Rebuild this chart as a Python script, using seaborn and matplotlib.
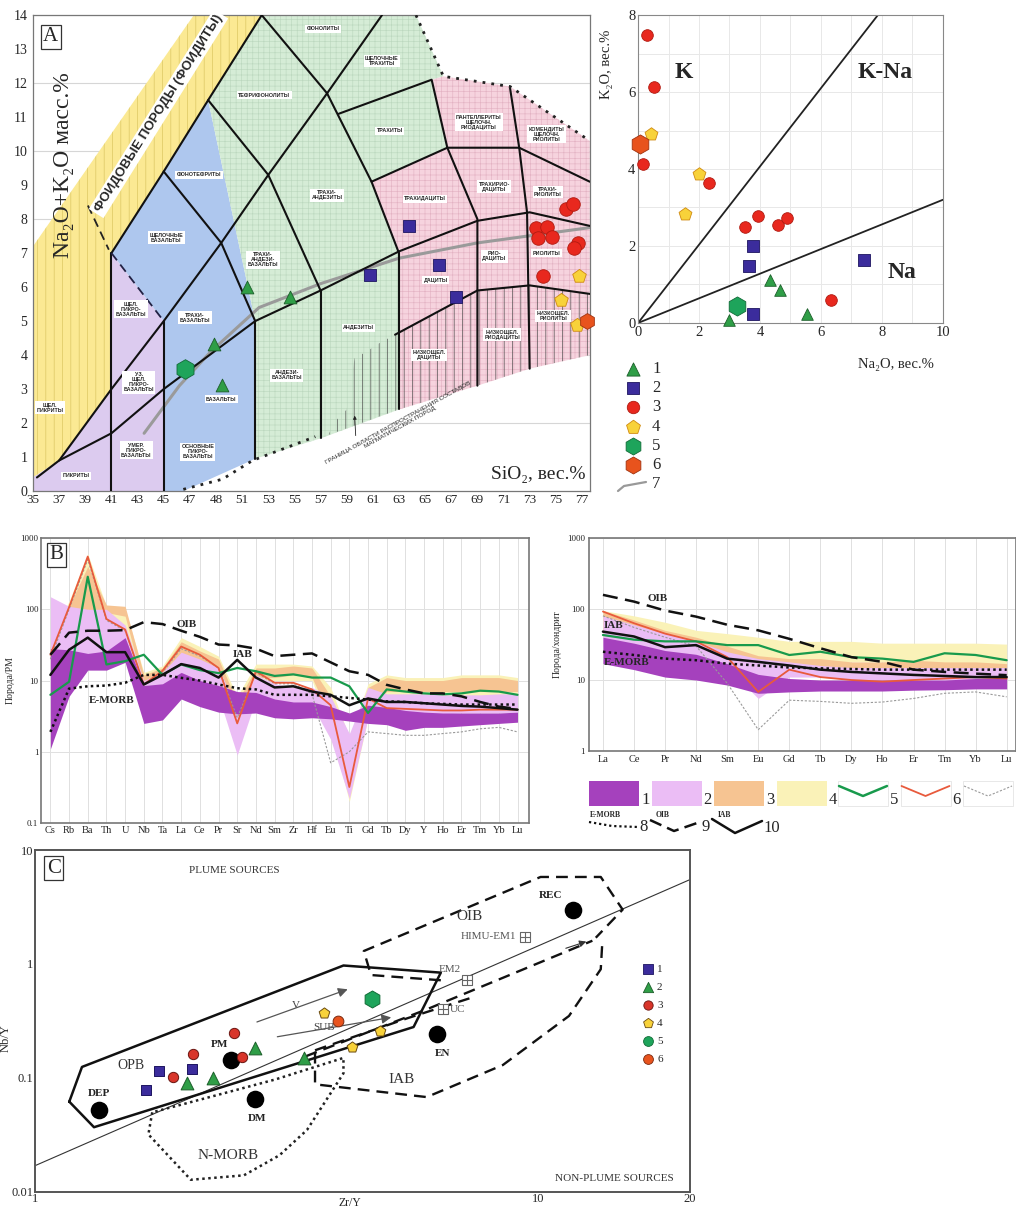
import numpy as np
import pandas as pd
import matplotlib.pyplot as plt
from matplotlib.patches import Rectangle, Polygon
import seaborn as sns

sns.set_style("white")
plt.rcParams['font.family'] = ['Liberation Serif', 'DejaVu Serif']
plt.rcParams['hatch.linewidth'] = 0.45
SANS = ['Liberation Sans', 'DejaVu Sans']

# 1. DATA

# --- panel A: TAS diagram (SiO2 vs Na2O+K2O) ---
tas1_sio2 = [51.4, 54.7, 48.85, 49.45]
tas1_alk = [6.0, 5.7, 4.33, 3.13]
tas2_sio2 = [60.8, 63.8, 66.1, 67.4]
tas2_alk = [6.35, 7.8, 6.65, 5.7]
tas3_sio2 = [75.8, 76.3, 73.5, 74.3, 73.6, 74.7, 76.7, 76.4, 74.0]
tas3_alk = [8.3, 8.45, 7.75, 7.78, 7.43, 7.48, 7.3, 7.15, 6.33]
tas4_sio2 = [76.8, 75.4, 76.6]
tas4_alk = [6.33, 5.62, 4.88]
tas5_sio2 = [46.6]
tas5_alk = [3.6]
tas6_sio2 = [77.4]
tas6_alk = [5.0]

# field outlines (SiO2, alk)
yellow_field = [(35, 0.4), (35, 7.2), (47.3, 14), (52.5, 14), (41, 7), (41, 3.0), (37, 0.9)]
lilac_field = [(35, 0), (35, 0.4), (37, 0.9), (41, 3.0), (41, 7), (45, 5), (45, 0)]
blue_field = [(41, 7), (48.4, 11.5), (52, 5), (52, 0.95), (46.5, 0), (45, 0), (45, 5)]
green_field = [(48.4, 11.5), (52.5, 14), (64.3, 14), (66.4, 12.2), (65.5, 12.1), (66.7, 10.1),
               (60.9, 9.1), (63, 7), (63, 2.4), (57, 1.55), (52, 0.95), (52, 5)]
pink_field = [(63, 2.4), (63, 7), (60.9, 9.1), (66.7, 10.1), (65.5, 12.1), (66.4, 12.2),
              (71.5, 11.9), (77.6, 10.3), (77.6, 4.0), (73, 3.6), (69, 3.1)]
hatch_field = [(57.6, 1.65), (58, 2.0), (59, 2.4), (59.6, 3.9), (60.5, 4.1), (61.5, 4.35),
               (62.7, 4.6), (69, 5.9), (73, 6.05), (77.6, 5.8), (77.6, 4.0), (73, 3.6),
               (69, 3.1), (63, 2.4)]

tas_lines = [
    [(35.3, 0.4), (37, 0.9), (41, 1.7), (45, 3.0), (52, 5.0), (57, 5.9), (63, 7.05), (69, 7.95), (73, 8.2), (77.6, 7.8)],
    [(37, 0.9), (41, 3.0), (45, 5.0), (49.4, 7.3), (53, 9.3), (57.5, 11.7), (61.7, 14)],
    [(41, 7), (45, 9.4), (48.4, 11.5), (52.5, 14)],
    [(45, 9.4), (49.4, 7.3), (52, 5)],
    [(48.4, 11.5), (53, 9.3), (57, 5.9)],
    [(52.5, 14), (57.5, 11.7), (60.9, 9.1), (63, 7)],
    [(41, 0), (41, 7)],
    [(45, 0), (45, 5)],
    [(52, 0.95), (52, 5)],
    [(57, 1.55), (57, 5.9)],
    [(63, 2.4), (63, 7)],
    [(58.4, 11.1), (65.5, 12.1), (66.7, 10.1), (69, 8.0), (69, 3.1)],
    [(60.9, 9.1), (66.7, 10.1), (72.2, 10.1), (77.6, 9.1)],
    [(71.5, 11.85), (72.2, 10.1), (72.8, 8.2), (73, 3.6)],
    [(62.7, 4.6), (69, 5.9), (73, 6.05), (77.6, 5.8)],
]
dotted_bounds = [
    [(64.3, 14), (66.4, 12.2), (71.5, 11.9), (77.6, 10.3)],
    [(46.5, 0.05), (49.5, 0.35), (51.8, 0.9), (56.6, 1.6)],
]
gray_curve_sio2 = [43.5, 46.2, 48.6, 52.3, 57, 63, 69, 77.6]
gray_curve_alk = [1.7, 3.1, 4.1, 5.4, 6.1, 6.85, 7.3, 7.75]

tas_labels = [
    ("ФОНОЛИТЫ", 57.2, 13.6), ("ЩЕЛОЧНЫЕ\nТРАХИТЫ", 61.7, 12.65), ("ТЕФРИФОНОЛИТЫ", 52.7, 11.65),
    ("ТРАХИТЫ", 62.3, 10.6), ("ПАНТЕЛЛЕРИТЫ\nЩЕЛОЧН.\nРИОДАЦИТЫ", 69.1, 10.85),
    ("КОМЕНДИТЫ\nЩЕЛОЧН.\nРИОЛИТЫ", 74.3, 10.5), ("ФОНОТЕФРИТЫ", 47.7, 9.3),
    ("ТРАХИ-\nАНДЕЗИТЫ", 57.5, 8.7), ("ТРАХИДАЦИТЫ", 65.0, 8.6), ("ТРАХИРИО-\nДАЦИТЫ", 70.3, 8.95),
    ("ТРАХИ-\nРИОЛИТЫ", 74.4, 8.8), ("ЩЕЛОЧНЫЕ\nБАЗАЛЬТЫ", 45.2, 7.45),
    ("ТРАХИ-\nАНДЕЗИ-\nБАЗАЛЬТЫ", 52.6, 6.8), ("РИО-\nДАЦИТЫ", 70.3, 6.9), ("ДАЦИТЫ", 65.8, 6.2),
    ("РИОЛИТЫ", 74.3, 7.0), ("ЩЕЛ.\nПИКРО-\nБАЗАЛЬТЫ", 42.5, 5.35), ("ТРАХИ-\nБАЗАЛЬТЫ", 47.4, 5.1),
    ("АНДЕЗИТЫ", 59.9, 4.8), ("НИЗКОЩЕЛ.\nРИОДАЦИТЫ", 70.9, 4.6), ("НИЗКОЩЕЛ.\nРИОЛИТЫ", 74.8, 5.15),
    ("НИЗКОЩЕЛ.\nДАЦИТЫ", 65.3, 4.0), ("УЗ.\nЩЕЛ.\nПИКРО-\nБАЗАЛЬТЫ", 43.1, 3.2),
    ("АНДЕЗИ-\nБАЗАЛЬТЫ", 54.4, 3.4), ("БАЗАЛЬТЫ", 49.4, 2.7), ("ЩЕЛ.\nПИКРИТЫ", 36.3, 2.45),
    ("УМЕР.\nПИКРО-\nБАЗАЛЬТЫ", 42.9, 1.2), ("ОСНОВНЫЕ\nПИКРО-\nБАЗАЛЬТЫ", 47.6, 1.15),
    ("ПИКРИТЫ", 38.3, 0.45),
]
tas_xticks = list(range(35, 78, 2))
tas_xticklabels = [str(v) for v in tas_xticks]
tas_xticklabels[7] = "48"

# --- panel A2: K2O vs Na2O ---
k1_na = [4.33, 4.66, 5.55, 2.97]
k1_k = [1.11, 0.85, 0.24, 0.09]
k2_na = [3.76, 3.65, 3.76, 7.42]
k2_k = [1.99, 1.48, 0.24, 1.63]
k3_na = [0.29, 0.51, 0.16, 2.33, 3.51, 3.95, 4.6, 4.9, 6.33]
k3_k = [7.48, 6.13, 4.12, 3.64, 2.5, 2.78, 2.54, 2.73, 0.59]
k4_na = [0.43, 2.0, 1.55]
k4_k = [4.92, 3.88, 2.82]
k5_na = [3.24]
k5_k = [0.43]
k6_na = [0.08]
k6_k = [4.66]
k_line1 = [(0, 0), (7.87, 8)]
k_line2 = [(0, 0), (10, 3.2)]

# --- panel B: PM normalised spider diagram ---
pm_elements = ["Cs", "Rb", "Ba", "Th", "U", "Nb", "Ta", "La", "Ce", "Pr", "Sr", "Nd", "Sm",
               "Zr", "Hf", "Eu", "Ti", "Gd", "Tb", "Dy", "Y", "Ho", "Er", "Tm", "Yb", "Lu"]
pm_f1_lo = [1.1, 6, 14, 14, 18, 2.5, 2.8, 5.5, 4.3, 3.6, 3.4, 3.5, 3.0, 2.9, 3.0, 2.9, 2.7, 2.5, 2.4, 2.0, 2.2, 2.2, 2.3, 2.4, 2.5, 2.6]
pm_f1_hi = [28, 27, 24, 26, 40, 8.5, 9, 13, 10, 8.5, 7, 6.8, 5.5, 5, 5, 4.3, 3.5, 4.5, 4.2, 3.8, 3.6, 3.5, 3.5, 3.5, 3.5, 3.6]
pm_f2_lo = [1.5, 8, 20, 14, 25, 5, 7, 9, 7, 6, 0.9, 5.5, 5, 4.8, 4.5, 1.5, 0.22, 3.0, 3.4, 3.4, 3.4, 3.4, 3.5, 3.5, 3.5, 3.6]
pm_f2_hi = [150, 110, 100, 100, 60, 10, 13, 25, 20, 15, 4, 12, 9, 8, 8, 6, 1.8, 8, 6.5, 6.5, 6.5, 6.3, 6.3, 6.3, 6.5, 6.5]
pm_f3_lo = [20, 70, 100, 90, 80, 8, 10, 22, 18, 14, 2, 11, 11, 12, 11, 3, 0.3, 4, 7, 7, 7, 7, 7, 7, 7, 7]
pm_f3_hi = [30, 110, 400, 115, 110, 12, 15, 35, 26, 20, 5, 15, 15, 16, 15, 6, 1.0, 8, 11, 10, 10, 10, 11, 11, 11, 10]
pm_f4_lo = [15, 60, 150, 60, 50, 7, 9, 20, 16, 13, 1.5, 10, 10, 10, 10, 2, 0.2, 3, 6, 6, 6, 6, 6, 6, 6, 6]
pm_f4_hi = [40, 130, 600, 110, 100, 13, 16, 40, 30, 22, 6, 17, 17, 17, 16, 8, 1.6, 9, 12, 11, 11, 11, 12, 12, 12, 11]
pm_green = [6.3, 9.6, 286, 16.8, 18.7, 23, 12, 16.8, 14, 12.7, 15, 13.5, 11.6, 12.2, 11, 11, 8.3, 3.5, 7.5, 7, 6.6, 6.4, 6.6, 7.2, 7, 6.3]
pm_red = [23, 107, 550, 73, 52, 8.8, 13.7, 30, 23, 15, 2.5, 13.5, 9.3, 9.3, 7.5, 4.5, 0.32, 5.6, 4.1, 4.0, 3.9, 3.8, 3.8, 3.9, 3.9, 3.9]
pm_gray = [20, 100, 500, 70, 50, 9, 13, 28, 22, 15, 3, 13, 9, 9, 6.5, 0.7, 1.0, 1.9, 1.8, 1.7, 1.7, 1.8, 1.9, 2.1, 2.2, 1.9]
pm_emorb = [1.9, 7.7, 8.3, 8.5, 9.3, 12, 12, 10.9, 10, 8.8, 7.8, 7.5, 6.3, 6.3, 6.3, 6, 5.7, 5.4, 5.1, 5, 4.8, 4.7, 4.6, 4.6, 4.6, 4.6]
pm_oib = [23, 47, 50, 50, 51, 66, 62, 50, 41, 32, 31, 28, 22, 23, 24, 18, 13.5, 12, 8.7, 7.5, 6.6, 6.6, 6.0, 5.0, 4.3, 4.0]
pm_iab = [12, 27, 40, 25, 25, 8.8, 12, 17, 15, 11, 19.5, 11, 8, 8.3, 7, 6.3, 4.5, 5.6, 5, 5, 4.8, 4.6, 4.4, 4.3, 4.1, 3.9]

# --- panel B2: chondrite normalised REE ---
ree_elements = ["La", "Ce", "Pr", "Nd", "Sm", "Eu", "Gd", "Tb", "Dy", "Ho", "Er", "Tm", "Yb", "Lu"]
ree_f1_lo = [17, 14, 11, 10, 8.5, 6.5, 6.8, 7, 7, 7, 7.2, 7.3, 7.5, 7.5]
ree_f1_hi = [40, 33, 26, 23, 17, 12, 10.5, 10, 10, 10, 10, 10, 10.5, 10.5]
ree_f2_lo = [30, 25, 20, 18, 15, 5.5, 11, 11, 10, 10, 10, 10, 10, 10]
ree_f2_hi = [80, 60, 45, 35, 25, 20, 18, 16, 15, 15, 15, 15, 15, 15]
ree_f3_lo = [50, 40, 30, 25, 18, 7, 14, 13, 12, 12, 12, 12, 12, 12]
ree_f3_hi = [95, 70, 50, 40, 30, 22, 20, 20, 18, 18, 19, 18, 18, 17]
ree_f4_lo = [40, 35, 30, 28, 25, 20, 18, 18, 18, 18, 17, 17, 17, 16]
ree_f4_hi = [95, 80, 65, 50, 45, 40, 35, 35, 35, 33, 33, 33, 33, 32]
ree_green = [43, 37, 35, 35, 31, 31, 22.5, 25, 21, 20, 18, 23.8, 22.5, 19]
ree_red = [92, 63, 45, 35, 21, 6.8, 14, 11, 10, 9.5, 10, 10.5, 11, 10.5]
ree_gray = [80, 55, 40, 30, 9, 2.0, 5.2, 5, 4.7, 4.9, 5.5, 6.5, 6.8, 5.8]
ree_emorb = [25, 22.5, 20, 19, 17, 16, 15, 14.6, 14.3, 14, 14, 14, 14, 14]
ree_oib = [158, 127, 95, 78, 60, 50, 38, 28, 21, 18, 14, 13, 12.3, 11.7]
ree_iab = [48, 41, 29, 31, 20, 18, 16, 14, 13, 12.4, 11.8, 11.4, 11, 11]

# --- panel C: Nb/Y vs Zr/Y ---
c1_zr = [1.66, 1.76, 2.05]
c1_nb = [0.079, 0.116, 0.121]
c2_zr = [2.0, 2.26, 2.74, 3.42]
c2_nb = [0.09, 0.10, 0.182, 0.15]
c3_zr = [1.88, 2.06, 2.49, 2.58]
c3_nb = [0.101, 0.161, 0.249, 0.152]
c4_zr = [3.75, 4.27, 4.84]
c4_nb = [0.375, 0.186, 0.256]
c5_zr = [4.68]
c5_nb = [0.49]
c6_zr = [4.0]
c6_nb = [0.315]
c_ref_names = ["DEP", "DM", "PM", "EN", "REC"]
c_ref_zr = [1.34, 2.73, 2.45, 6.3, 11.7]
c_ref_nb = [0.052, 0.065, 0.145, 0.245, 3.0]
c_res_names = ["HIMU-EM1", "EM2", "UC"]
c_res_zr = [9.4, 7.2, 6.45]
c_res_nb = [1.73, 0.73, 0.40]
c_diag = [(1, 0.017), (20, 5.5)]
c_opb = [(1.17, 0.062), (1.24, 0.125), (4.1, 0.97), (6.4, 0.84), (5.65, 0.28), (1.31, 0.037), (1.17, 0.062)]
c_oib = [(6.4, 0.72), (4.65, 0.8), (4.5, 1.3), (10.1, 5.8), (13.3, 5.8), (14.7, 3.0), (13.0, 1.7)]
c_iab = [(3.6, 0.17), (3.6, 0.088), (6.0, 0.068), (8.5, 0.13), (11.5, 0.35), (13.3, 0.9), (13.4, 1.6)]
c_trend1 = [(3.45, 0.155), (6.0, 0.40), (12.8, 1.6)]
c_trend2 = [(3.6, 0.175), (5.5, 0.335), (7.3, 0.5)]
c_nmorb = [(1.71, 0.05), (1.68, 0.032), (2.04, 0.0128), (2.6, 0.014), (3.06, 0.021), (3.47, 0.035),
           (4.1, 0.11), (4.1, 0.15), (3.0, 0.097), (2.0, 0.06), (1.71, 0.05)]
c_arrow_v = [(2.76, 0.31), (4.18, 0.6)]
c_arrow_sub = [(3.03, 0.23), (5.1, 0.34)]

# colours
GREEN = "#2f9e47"
BLUE = "#3b2c9c"
RED = "#e8281e"
YELLOW = "#f8d23a"
HEXGREEN = "#1ea45b"
ORANGE = "#e8531d"
F1 = "#a541bd"
F2 = "#ebbdf5"
F3 = "#f6c492"
F4 = "#faf2b8"


# 2. FIGURE

fig = plt.figure(figsize=(10.16, 12.11), dpi=100)
axA = fig.add_axes([0.0325, 0.5945, 0.548, 0.393])
axK = fig.add_axes([0.628, 0.7333, 0.300, 0.2543])
axB = fig.add_axes([0.0404, 0.3204, 0.480, 0.2353])
axR = fig.add_axes([0.5797, 0.3798, 0.4203, 0.176])
axC = fig.add_axes([0.0344, 0.0157, 0.6447, 0.2824])
over = fig.add_axes([0, 0, 1, 1], zorder=20)
over.set_xlim(0, 1016)
over.set_ylim(1211, 0)
over.axis("off")


def xy(pts):
    return [p[0] for p in pts], [p[1] for p in pts]


def boxed_label(ax, s):
    ax.text(0.018, 0.975, s, transform=ax.transAxes, ha="left", va="top", fontsize=15,
            bbox=dict(boxstyle="square,pad=0.12", fc="white", ec="#333333", lw=0.9), zorder=30)


# 3. PANEL A - TAS

for poly, fc, hc, ht in [(yellow_field, "#fbe993", "#d8c35e", "||"),
                         (lilac_field, "#dccbef", "#c0aadb", None),
                         (blue_field, "#aec7ee", "#8fa9d6", None),
                         (green_field, "#d5ecd6", "#bcd8bf", "+++"),
                         (pink_field, "#f6d3de", "#e3b3c3", "+++")]:
    axA.add_patch(Polygon(poly, closed=True, fc=fc, ec="none", zorder=1))
    if ht:
        axA.add_patch(Polygon(poly, closed=True, fc="none", ec=hc, lw=0, hatch=ht, zorder=1.2))
axA.add_patch(Polygon(hatch_field, closed=True, fc="none", ec="#444444", lw=0, hatch="||", zorder=1.5))

for line in tas_lines:
    lx, ly = xy(line)
    axA.plot(lx, ly, color="#111111", lw=1.5, zorder=3, solid_capstyle="round")
for line in dotted_bounds:
    lx, ly = xy(line)
    axA.plot(lx, ly, color="#222222", lw=2.0, ls=(0, (1, 2.2)), zorder=3)
axA.plot([41, 45], [7, 5], color="#222244", lw=1.3, ls=(0, (5, 3)), zorder=3)
axA.plot([39.2, 40.8], [8.4, 7.1], color="#222222", lw=1.3, ls=(0, (5, 3)), zorder=3)
axA.plot(gray_curve_sio2, gray_curve_alk, color="#9a9a9a", lw=2.2, zorder=2.5)

for s, x0, y0 in tas_labels:
    axA.text(x0, y0, s, fontsize=3.9, family=SANS, weight="bold", ha="center", va="center",
             linespacing=1.0, zorder=4,
             bbox=dict(boxstyle="square,pad=0.25", fc="white", ec="none"))
axA.text(44.6, 11.1, "ФОИДОВЫЕ ПОРОДЫ (ФОИДИТЫ)", fontsize=9.5, family=SANS, weight="bold",
         rotation=58, ha="center", va="center", zorder=4,
         bbox=dict(boxstyle="square,pad=0.2", fc="white", ec="none"))
axA.text(63.0, 1.95, "ГРАНИЦА ОБЛАСТИ РАСПРОСТРАНЕНИЯ СОСТАВОВ\nМАГМАТИЧЕСКИХ ПОРОД",
         fontsize=4.6, family=SANS, rotation=29, ha="center", va="center", linespacing=1.1, zorder=4)
axA.annotate("", xy=(59.6, 2.3), xytext=(59.7, 1.55),
             arrowprops=dict(arrowstyle="-|>", color="#222222", lw=0.6, mutation_scale=5), zorder=4)

for sx, sy, m, fc, ec, sz in [(tas1_sio2, tas1_alk, "^", GREEN, "#1c5e2a", 85),
                              (tas2_sio2, tas2_alk, "s", BLUE, "#1d1560", 85),
                              (tas3_sio2, tas3_alk, "o", RED, "#b01a10", 95),
                              (tas4_sio2, tas4_alk, "p", YELLOW, "#d08a10", 105),
                              (tas5_sio2, tas5_alk, "h", HEXGREEN, "#116b36", 200),
                              (tas6_sio2, tas6_alk, "h", ORANGE, "#a0320e", 130)]:
    sns.scatterplot(x=sx, y=sy, marker=m, s=sz, color=fc, edgecolor=ec, linewidth=0.6,
                    ax=axA, zorder=6, clip_on=False, legend=False)

axA.set_xlim(35, 77.6)
axA.set_ylim(0, 14)
axA.set_xticks(tas_xticks)
axA.set_xticklabels(tas_xticklabels, fontsize=9.5)
axA.set_xticks(range(35, 78), minor=True)
axA.set_yticks(range(0, 15))
axA.tick_params(axis="y", labelsize=10, length=3, pad=1)
axA.tick_params(axis="x", which="both", length=2.5, pad=2, direction="in")
for y0 in range(2, 15, 2):
    axA.axhline(y0, color="#d6d6d6", lw=0.8, zorder=0.5)
for sp in axA.spines.values():
    sp.set_color("#777777")
    sp.set_linewidth(0.9)
axA.text(37.3, 9.6, "Na₂O+K₂O масс.%", rotation=90, fontsize=17, ha="center", va="center", zorder=5)
axA.text(77.3, 0.25, "SiO₂, вес.%", fontsize=14, ha="right", va="bottom", zorder=5)
boxed_label(axA, "A")

# 4. PANEL A2 - K2O vs Na2O

for line in [k_line1, k_line2]:
    lx, ly = xy(line)
    axK.plot(lx, ly, color="#222222", lw=1.3, zorder=2)
for sx, sy, m, fc, ec, sz in [(k1_na, k1_k, "^", GREEN, "#1c5e2a", 70),
                              (k2_na, k2_k, "s", BLUE, "#1d1560", 70),
                              (k3_na, k3_k, "o", RED, "#b01a10", 70),
                              (k4_na, k4_k, "p", YELLOW, "#d08a10", 95),
                              (k5_na, k5_k, "h", HEXGREEN, "#116b36", 190),
                              (k6_na, k6_k, "h", ORANGE, "#a0320e", 190)]:
    sns.scatterplot(x=sx, y=sy, marker=m, s=sz, color=fc, edgecolor=ec, linewidth=0.6,
                    ax=axK, zorder=5, clip_on=False, legend=False)
axK.set_xlim(0, 10)
axK.set_ylim(0, 8)
axK.set_xticks(range(0, 11, 2))
axK.set_yticks(range(0, 9, 2))
axK.set_xticks(range(0, 11), minor=True)
axK.set_yticks(range(0, 9), minor=True)
axK.grid(which="both", color="#e8e8e8", lw=0.7)
axK.tick_params(labelsize=10.5, length=0, pad=2)
for sp in axK.spines.values():
    sp.set_color("#888888")
axK.text(-0.105, 0.84, "K₂O, вес.%", transform=axK.transAxes, rotation=90, fontsize=10.5,
         ha="center", va="center")
axK.text(0.97, -0.135, "Na₂O, вес.%", transform=axK.transAxes, fontsize=10.5, ha="right", va="center")
axK.text(1.5, 6.5, "K", fontsize=17, weight="bold", ha="center", va="center")
axK.text(8.1, 6.5, "K-Na", fontsize=17, weight="bold", ha="center", va="center")
axK.text(8.65, 1.3, "Na", fontsize=17, weight="bold", ha="center", va="center")

leg_items = [("^", GREEN, "#1c5e2a", 90), ("s", BLUE, "#1d1560", 80), ("o", RED, "#b01a10", 80),
             ("p", YELLOW, "#d08a10", 110), ("h", HEXGREEN, "#116b36", 150), ("h", ORANGE, "#a0320e", 150)]
for i, (m, fc, ec, sz) in enumerate(leg_items):
    yy = 369 + i * 19.2
    over.scatter([633], [yy], marker=m, s=sz, c=fc, edgecolors=ec, linewidths=0.6)
    over.text(652, yy, str(i + 1), fontsize=12, ha="left", va="center")
over.plot([618, 624, 646], [491, 486, 482], color="#999999", lw=1.6)
over.text(652, 484, "7", fontsize=12, ha="left", va="center")

# 5. PANEL B - spider diagram

xb = np.arange(len(pm_elements))
for lo, hi, col in [(pm_f4_lo, pm_f4_hi, F4), (pm_f3_lo, pm_f3_hi, F3),
                    (pm_f2_lo, pm_f2_hi, F2), (pm_f1_lo, pm_f1_hi, F1)]:
    axB.fill_between(xb, lo, hi, color=col, lw=0, zorder=2)
sns.lineplot(x=xb, y=pm_gray, ax=axB, color="#9a9a9a", lw=0.8, ls=(0, (2, 1.5)), zorder=3)
sns.lineplot(x=xb, y=pm_red, ax=axB, color="#e85a3c", lw=1.3, zorder=4)
sns.lineplot(x=xb, y=pm_green, ax=axB, color="#189a4c", lw=1.6, zorder=5)
sns.lineplot(x=xb, y=pm_emorb, ax=axB, color="#111111", lw=1.8, ls=(0, (1, 1.3)), zorder=6)
sns.lineplot(x=xb, y=pm_oib, ax=axB, color="#111111", lw=1.8, ls=(0, (6, 3)), zorder=6)
sns.lineplot(x=xb, y=pm_iab, ax=axB, color="#111111", lw=1.8, zorder=6)
axB.set_yscale("log")
axB.set_ylim(0.1, 1000)
axB.set_xlim(-0.5, 25.6)
axB.set_xticks(xb)
axB.set_xticklabels(pm_elements, fontsize=7.5)
axB.set_yticks([0.1, 1, 10, 100, 1000])
axB.set_yticklabels(["0.1", "1", "10", "100", "1000"], fontsize=6.5)
axB.yaxis.set_minor_locator(plt.NullLocator())
axB.tick_params(length=0, pad=2)
axB.grid(True, color="#e0e0e0", lw=0.7)
axB.set_axisbelow(True)
for sp in axB.spines.values():
    sp.set_color("#777777")
    sp.set_linewidth(1.2)
axB.set_ylabel("Порода/PM", fontsize=7, labelpad=4)
axB.text(7.3, 62, "OIB", fontsize=8, weight="bold", ha="center", va="center", zorder=8)
axB.text(10.3, 23, "IAB", fontsize=8, weight="bold", ha="center", va="center", zorder=8)
axB.text(3.3, 5.3, "E-MORB", fontsize=8, weight="bold", ha="center", va="center", zorder=8)
boxed_label(axB, "B")

# 6. PANEL B2 - REE

xr = np.arange(len(ree_elements))
for lo, hi, col in [(ree_f4_lo, ree_f4_hi, F4), (ree_f3_lo, ree_f3_hi, F3),
                    (ree_f2_lo, ree_f2_hi, F2), (ree_f1_lo, ree_f1_hi, F1)]:
    axR.fill_between(xr, lo, hi, color=col, lw=0, zorder=2)
sns.lineplot(x=xr, y=ree_gray, ax=axR, color="#9a9a9a", lw=0.8, ls=(0, (2, 1.5)), zorder=3)
sns.lineplot(x=xr, y=ree_red, ax=axR, color="#e85a3c", lw=1.3, zorder=4)
sns.lineplot(x=xr, y=ree_green, ax=axR, color="#189a4c", lw=1.6, zorder=5)
sns.lineplot(x=xr, y=ree_emorb, ax=axR, color="#111111", lw=1.8, ls=(0, (1, 1.3)), zorder=6)
sns.lineplot(x=xr, y=ree_oib, ax=axR, color="#111111", lw=1.8, ls=(0, (6, 3)), zorder=6)
sns.lineplot(x=xr, y=ree_iab, ax=axR, color="#111111", lw=1.8, zorder=6)
axR.set_yscale("log")
axR.set_ylim(1, 1000)
axR.set_xlim(-0.45, 13.3)
axR.set_xticks(xr)
axR.set_xticklabels(ree_elements, fontsize=7.5)
axR.set_yticks([1, 10, 100, 1000])
axR.set_yticklabels(["1", "10", "100", "1000"], fontsize=6.5)
axR.yaxis.set_minor_locator(plt.NullLocator())
axR.tick_params(length=0, pad=3)
axR.grid(True, color="#e0e0e0", lw=0.7)
axR.set_axisbelow(True)
for sp in axR.spines.values():
    sp.set_color("#777777")
    sp.set_linewidth(1.2)
axR.set_ylabel("Порода/хондрит", fontsize=7, labelpad=4)
axR.text(1.75, 140, "OIB", fontsize=8, weight="bold", ha="center", va="center", zorder=8)
axR.text(0.35, 58, "IAB", fontsize=8, weight="bold", ha="center", va="center", zorder=8)
axR.text(0.75, 17.5, "E-MORB", fontsize=8, weight="bold", ha="center", va="center", zorder=8)

# REE / spider legend (the 7th box runs off the right edge, as in the source)
for i, col in enumerate([F1, F2, F3, F4]):
    x0 = 589 + i * 62.5
    over.add_patch(Rectangle((x0, 781), 50, 25, fc=col, ec="none"))
    over.text(x0 + 52, 800, str(i + 1), fontsize=12, ha="left", va="center")
for i, (col, lw, ls) in enumerate([("#189a4c", 1.8, "-"), ("#e85a3c", 1.3, "-"), ("#9a9a9a", 0.8, (0, (2, 1.5)))]):
    x0 = 838 + i * 62.5
    over.add_patch(Rectangle((x0, 781), 50, 25, fc="white", ec="#e4e4e4", lw=0.6))
    over.plot([x0 + 1, x0 + 25, x0 + 49], [786, 796, 786], color=col, lw=lw, ls=ls)
    if i < 2:
        over.text(x0 + 52, 800, str(i + 5), fontsize=12, ha="left", va="center")
over.text(590, 815, "E-MORB", fontsize=5.5, weight="bold", ha="left", va="center")
over.plot([589, 612, 638], [822, 826, 827], color="#111111", lw=1.6, ls=(0, (1, 1.3)))
over.text(639, 827, "8", fontsize=12, ha="left", va="center")
over.text(656, 815, "OIB", fontsize=5.5, weight="bold", ha="left", va="center")
over.plot([650, 674, 700], [820, 831, 822], color="#111111", lw=1.8, ls=(0, (5, 2.5)))
over.text(701, 827, "9", fontsize=12, ha="left", va="center")
over.text(718, 815, "IAB", fontsize=5.5, weight="bold", ha="left", va="center")
over.plot([712, 735, 762], [819, 833, 821], color="#111111", lw=1.8)
over.text(763, 828, "10", fontsize=12, ha="left", va="center")

# 7. PANEL C - Nb/Y vs Zr/Y

axC.set_xscale("log")
axC.set_yscale("log")
lx, ly = xy(c_diag)
axC.plot(lx, ly, color="#333333", lw=0.8, zorder=2)
lx, ly = xy(c_opb)
axC.plot(lx, ly, color="#111111", lw=1.8, zorder=3)
for line in [c_oib, c_iab, c_trend1, c_trend2]:
    lx, ly = xy(line)
    axC.plot(lx, ly, color="#111111", lw=1.7, ls=(0, (5, 3)), zorder=3)
lx, ly = xy(c_nmorb)
axC.plot(lx, ly, color="#222222", lw=1.8, ls=(0, (1, 1.4)), zorder=3)
for arr in [c_arrow_v, c_arrow_sub]:
    axC.annotate("", xy=arr[1], xytext=arr[0],
                 arrowprops=dict(arrowstyle="-|>", color="#555555", lw=0.9, mutation_scale=14,
                                 shrinkA=0, shrinkB=0), zorder=4)
axC.annotate("", xy=(12.6, 1.6), xytext=(11.2, 1.35),
             arrowprops=dict(arrowstyle="-|>", color="#333333", lw=0.8, mutation_scale=10), zorder=4)
axC.text(3.3, 0.43, "V", fontsize=8, color="#444444", ha="center", va="center")
axC.text(3.75, 0.275, "SUB", fontsize=8, color="#444444", ha="center", va="center")

sns.scatterplot(x=c_ref_zr, y=c_ref_nb, s=190, color="black", ax=axC, zorder=6, legend=False)
ref_offsets = [(0, 12), (2, -14), (-8, 11), (4, -14), (-16, 10)]
for name, zx, ny, (dx, dy) in zip(c_ref_names, c_ref_zr, c_ref_nb, ref_offsets):
    axC.annotate(name, (zx, ny), xytext=(dx, dy), textcoords="offset points", fontsize=8,
                 weight="bold", color="#222222", ha="center", va="center")
sns.scatterplot(x=c_res_zr, y=c_res_nb, marker="s", s=45, color="white", edgecolor="#666666",
                linewidth=0.8, ax=axC, zorder=5, legend=False)
sns.scatterplot(x=c_res_zr, y=c_res_nb, marker="+", s=45, color="#666666", linewidth=0.8,
                ax=axC, zorder=5.5, legend=False)
axC.annotate("HIMU-EM1", (c_res_zr[0], c_res_nb[0]), xytext=(-6, 0), textcoords="offset points",
             fontsize=8, color="#555555", ha="right", va="center")
axC.annotate("EM2", (c_res_zr[1], c_res_nb[1]), xytext=(-4, 7), textcoords="offset points",
             fontsize=8, color="#555555", ha="right", va="center")
axC.annotate("UC", (c_res_zr[2], c_res_nb[2]), xytext=(5, 0), textcoords="offset points",
             fontsize=8, color="#555555", ha="left", va="center")

for sx, sy, m, fc, ec, sz in [(c1_zr, c1_nb, "s", BLUE, "#1d1560", 55),
                              (c2_zr, c2_nb, "^", GREEN, "#1c5e2a", 85),
                              (c3_zr, c3_nb, "o", "#d8352a", "#6a1510", 55),
                              (c4_zr, c4_nb, "p", YELLOW, "#6a4a10", 65),
                              (c5_zr, c5_nb, "h", HEXGREEN, "#116b36", 150),
                              (c6_zr, c6_nb, "o", ORANGE, "#7a2a10", 60)]:
    sns.scatterplot(x=sx, y=sy, marker=m, s=sz, color=fc, edgecolor=ec, linewidth=0.7,
                    ax=axC, zorder=7, legend=False)

axC.text(7.3, 2.6, "OIB", fontsize=11, color="#333333", ha="center", va="center")
axC.text(5.35, 0.097, "IAB", fontsize=11, color="#333333", ha="center", va="center")
axC.text(2.42, 0.021, "N-MORB", fontsize=11, color="#333333", ha="center", va="center")
axC.text(1.55, 0.128, "OPB", fontsize=10, color="#333333", ha="center", va="center")
axC.text(0.305, 0.94, "PLUME SOURCES", transform=axC.transAxes, fontsize=8, color="#333333",
         ha="center", va="center")
axC.text(0.975, 0.04, "NON-PLUME SOURCES", transform=axC.transAxes, fontsize=8, color="#333333",
         ha="right", va="center")
axC.set_xlim(1, 20)
axC.set_ylim(0.01, 10)
axC.set_xticks([1, 10, 20])
axC.set_xticklabels(["1", "10", "20"], fontsize=9)
axC.set_yticks([0.01, 0.1, 1, 10])
axC.set_yticklabels(["0.01", "0.1", "1", "10"], fontsize=9)
axC.tick_params(which="major", length=3, direction="in", pad=1)
axC.tick_params(which="minor", length=2.5, direction="in")
axC.xaxis.set_minor_formatter(plt.NullFormatter())
for sp in axC.spines.values():
    sp.set_color("#555555")
    sp.set_linewidth(1.4)
over.text(350, 1209, "Zr/Y", fontsize=8.5, ha="center", va="bottom")
axC.text(-0.045, 0.45, "Nb/Y", transform=axC.transAxes, fontsize=9, rotation=90, ha="center", va="center")
boxed_label(axC, "C")

c_leg = [("s", BLUE, "#1d1560", 45), ("^", GREEN, "#1c5e2a", 55), ("o", "#d8352a", "#6a1510", 45),
         ("p", YELLOW, "#6a4a10", 55), ("o", HEXGREEN, "#116b36", 50), ("o", ORANGE, "#7a2a10", 50)]
for i, (m, fc, ec, sz) in enumerate(c_leg):
    yy = 969 + i * 18
    over.scatter([648], [yy], marker=m, s=sz, c=fc, edgecolors=ec, linewidths=0.6)
    over.text(657, yy, str(i + 1), fontsize=8, ha="left", va="center")

fig.savefig("out.png", dpi=100)
